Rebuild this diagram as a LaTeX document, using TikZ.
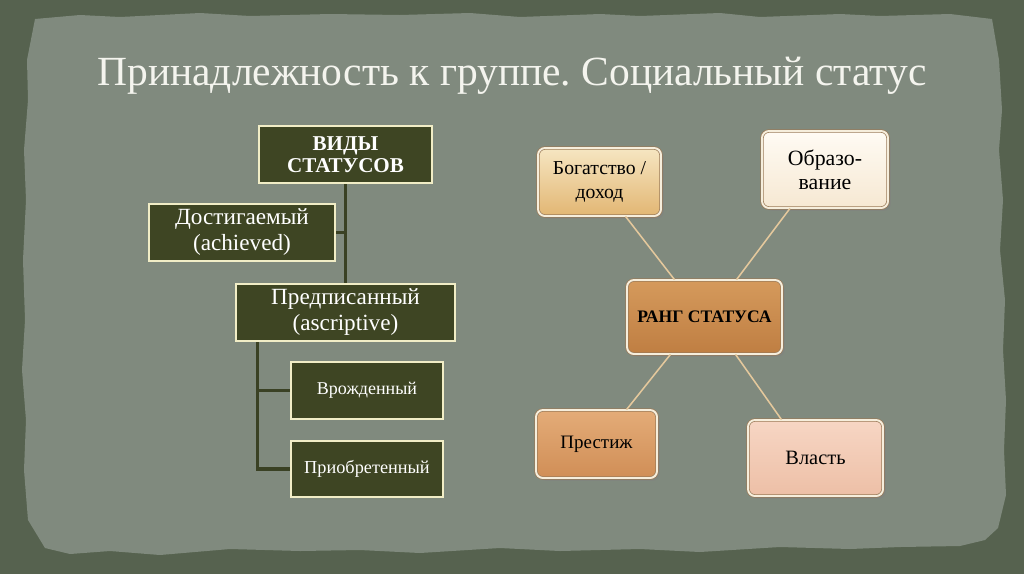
\documentclass[tikz,border=0pt]{standalone}
\usepackage{fontspec}
\setmainfont{Liberation Serif}
\usetikzlibrary{shadows,calc}
\frenchspacing
\definecolor{outerbg}{HTML}{56624F}
\definecolor{paper}{HTML}{808A7E}
\definecolor{olive}{HTML}{3E4523}
\definecolor{cream}{HTML}{F1EDC6}
\definecolor{treeline}{HTML}{3A4124}
\definecolor{tanline}{HTML}{E4C89C}
\definecolor{rimc}{HTML}{F6EEDC}
\definecolor{rimedge}{HTML}{9A7A58}
\definecolor{bogT}{HTML}{F6E6C2}
\definecolor{bogB}{HTML}{E2B673}
\definecolor{obrT}{HTML}{FFFBF4}
\definecolor{obrB}{HTML}{F6E8D2}
\definecolor{rangT}{HTML}{D59A5C}
\definecolor{rangB}{HTML}{BF7E42}
\definecolor{presT}{HTML}{E4AC78}
\definecolor{presB}{HTML}{D08E56}
\definecolor{vlasT}{HTML}{F7D6C4}
\definecolor{vlasB}{HTML}{EDBFA6}
\definecolor{titlec}{HTML}{F4F4EE}
\pgfdeclarelayer{bg}
\pgfsetlayers{bg,main}
\tikzset{
  lbox/.style={draw=cream, line width=2.1pt, fill=olive, text=white, align=center, inner sep=2pt},
  rbox/.style={draw=rimedge, line width=0.5pt, double=rimc, double distance=1.4pt, rounded corners=5pt, align=center, text=black,
    drop shadow={shadow xshift=2pt, shadow yshift=-2pt, opacity=0.45}, inner sep=2pt},
  tree/.style={draw=treeline, line width=2.6pt},
  spoke/.style={draw=tanline, line width=1.1pt}
}
\begin{document}
\begin{tikzpicture}[x=0.025cm, y=-0.025cm]
\useasboundingbox (0,0) rectangle (1024,574);
\begin{pgfonlayer}{bg}
\fill[outerbg] (0,0) rectangle (1024,574);
\fill[paper] (35,19) -- (80,15) -- (120,17) -- (200,13) -- (250,16) -- (330,14) -- (400,15) -- (470,13) -- (520,17) -- (600,14) -- (640,16) -- (720,13) -- (760,17) -- (840,14) -- (880,16) -- (950,14) -- (992,19)
  -- (999,60) -- (1002,110) -- (999,150) -- (1003,200) -- (1000,250) -- (1005,300) -- (1003,350) -- (1006,400) -- (1004,450) -- (1006,495) -- (998,528) -- (985,540) -- (960,546)
  -- (900,547) -- (850,549) -- (780,547) -- (700,552) -- (640,549) -- (560,551) -- (500,548) -- (420,553) -- (360,550) -- (300,551) -- (230,549) -- (160,555) -- (110,551) -- (70,554) -- (45,548)
  -- (28,520) -- (24,470) -- (26,420) -- (22,370) -- (25,320) -- (23,260) -- (26,200) -- (24,150) -- (28,100) -- (27,60) -- cycle;
\end{pgfonlayer}

\node[text=titlec, anchor=base, font=\fontsize{29.5}{34}\selectfont] (title) at (512,85) {Принадлежность к группе. Социальный статус};

% left tree
\node[lbox, minimum width=173*0.025cm, minimum height=57*0.025cm, font=\fontsize{15}{16}\selectfont\bfseries] (vid) at (345.5,154.5) {ВИДЫ\\СТАТУСОВ};
\node[lbox, minimum width=186*0.025cm, minimum height=57*0.025cm, font=\fontsize{16.5}{18.5}\selectfont] (dost) at (242,232.5) {Достигаемый\\(achieved)};
\node[lbox, minimum width=219*0.025cm, minimum height=57*0.025cm, font=\fontsize{16.5}{18.5}\selectfont] (pred) at (345.5,312.5) {Предписанный\\(ascriptive)};
\node[lbox, minimum width=152*0.025cm, minimum height=57*0.025cm, font=\fontsize{12.8}{14}\selectfont] (vroz) at (367,390.5) {Врожденный};
\node[lbox, minimum width=152*0.025cm, minimum height=56*0.025cm, font=\fontsize{13}{14}\selectfont] (prio) at (367,469) {Приобретенный};

\begin{pgfonlayer}{bg}
\draw[tree] (vid.south) -- (pred.north);
\draw[tree] (dost.east) -- (dost.east -| vid.south);
\coordinate (pbase) at ($(pred.south west)+(23,0)$);
\draw[tree] (pbase) |- (prio.west);
\draw[tree] (vroz.west) -- (vroz.west -| pbase);
\end{pgfonlayer}

% right cluster
\node[rbox, minimum width=123*0.025cm, minimum height=68*0.025cm, top color=bogT, bottom color=bogB, font=\fontsize{14}{17}\selectfont] (bog) at (599.5,182) {Богатство /\\доход};
\node[rbox, minimum width=126*0.025cm, minimum height=77*0.025cm, top color=obrT, bottom color=obrB, font=\fontsize{15.5}{17}\selectfont] (obr) at (825,169.5) {Образо-\\вание};
\node[rbox, minimum width=155*0.025cm, minimum height=74*0.025cm, top color=rangT, bottom color=rangB, font=\fontsize{12.5}{14}\selectfont\bfseries] (rang) at (704.5,317) {РАНГ СТАТУСА};
\node[rbox, minimum width=121*0.025cm, minimum height=68*0.025cm, top color=presT, bottom color=presB, font=\fontsize{13.5}{15}\selectfont] (pres) at (596.5,444) {Престиж};
\node[rbox, minimum width=135*0.025cm, minimum height=76*0.025cm, top color=vlasT, bottom color=vlasB, font=\fontsize{14.5}{16}\selectfont] (vlas) at (815.5,458) {Власть};

\draw[spoke] ($(bog.south)+(26,0)$) -- ($(rang.north)+(-30,0)$);
\draw[spoke] ($(obr.south)+(-35,0)$) -- ($(rang.north)+(32,0)$);
\draw[spoke] ($(rang.south)+(-34,0)$) -- ($(pres.north)+(30,0)$);
\draw[spoke] ($(rang.south)+(31,0)$) -- ($(vlas.north)+(-34,0)$);
\end{tikzpicture}
\end{document}
